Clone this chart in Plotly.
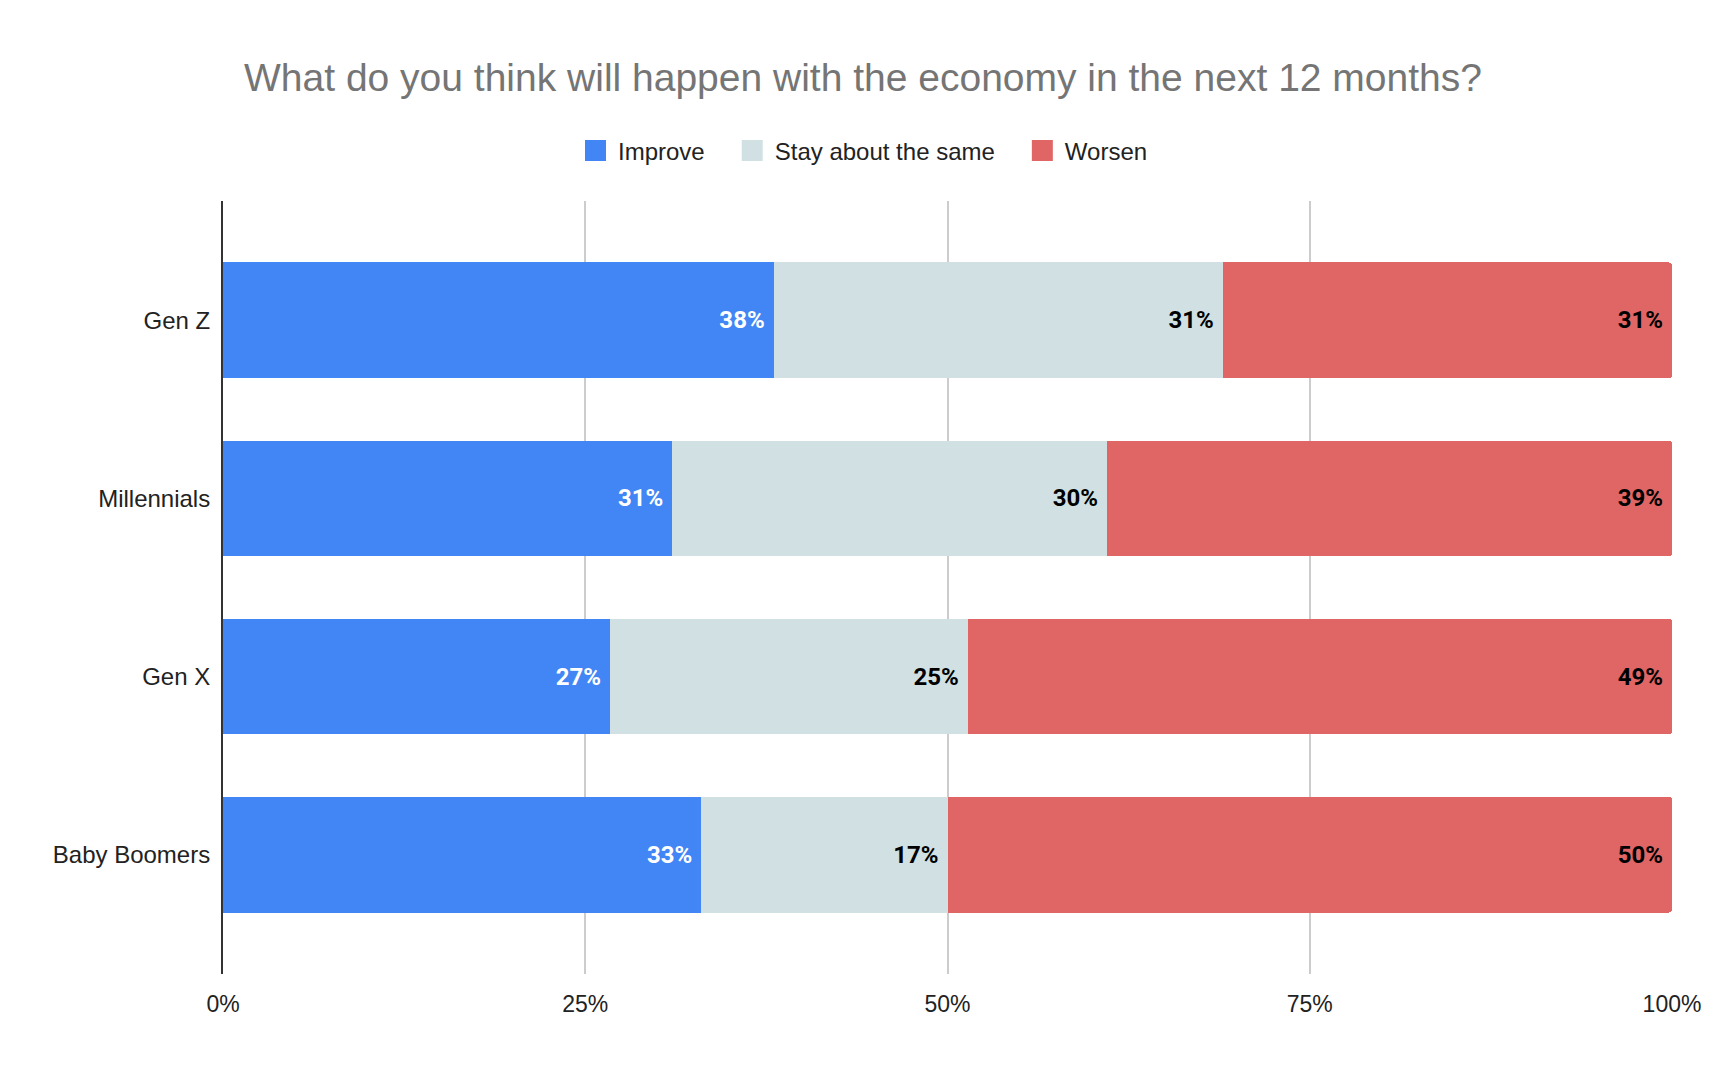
import plotly.graph_objects as go

categories = ["Gen Z", "Millennials", "Gen X", "Baby Boomers"]
series_names = ["Improve", "Stay about the same", "Worsen"]
improve = [38, 31, 26.7, 33]
stay = [31, 30, 24.7, 17]
worsen = [31, 39, 48.6, 50]
series_values = [improve, stay, worsen]
colors = ["#4285F4", "#D0E0E3", "#E06666"]
label_colors = ["#FFFFFF", "#000000", "#000000"]
tick_vals = [0, 25, 50, 75, 100]
tick_text = ["0%", "25%", "50%", "75%", "100%"]

fig = go.Figure()
n = len(series_names)
for i, (name, vals, col, lcol) in enumerate(zip(series_names, series_values, colors, label_colors)):
    fig.add_trace(go.Bar(
        y=categories, x=vals, name=name, orientation="h",
        marker=dict(color=col, line=dict(width=0)),
        width=0.65,
        text=[f"{round(v)}%\u00a0" for v in vals],
        textposition="inside", insidetextanchor="end",
        textfont=dict(family="Roboto", size=24, color=lcol, weight="bold"),
        constraintext="none",
        showlegend=False, legendgroup=name, hoverinfo="skip",
    ))
    legend_label = name + ("\u00a0\u00a0\u00a0" if i < n - 1 else "")
    fig.add_trace(go.Scatter(
        x=[None], y=[None], mode="markers", name=legend_label, legendgroup=name,
        marker=dict(symbol="square", size=16, color=col, line=dict(color=col, width=5)),
        showlegend=True,
    ))

fig.update_layout(
    width=1726, height=1068,
    barmode="stack", barcornerradius=3,
    paper_bgcolor="white", plot_bgcolor="white",
    margin=dict(l=223, r=54, t=201, b=94),
    title=dict(text="What do you think will happen with the economy in the next 12 months?",
               font=dict(family="Liberation Sans, Arial", size=39, color="#757575"),
               x=0.5, xref="container", xanchor="center",
               y=1 - 77 / 1068, yref="container", yanchor="middle"),
    legend=dict(orientation="h", x=0.5, xref="container", xanchor="center",
                y=1 - 151 / 1068, yref="container", yanchor="middle",
                font=dict(family="Liberation Sans, Arial", size=24, color="#222222"),
                traceorder="normal", itemclick=False, itemwidth=35),
    font=dict(family="Liberation Sans, Arial", color="#222222"),
)
fig.update_xaxes(range=[0, 100], tickvals=tick_vals, ticktext=tick_text,
                 showgrid=True, gridcolor="#CCCCCC", gridwidth=1.5,
                 zeroline=False, showline=False,
                 tickfont=dict(size=23, color="#222222"), ticklabelstandoff=14)
fig.update_yaxes(range=[3.67, -0.67], showgrid=False, zeroline=False,
                 showline=True, linecolor="#333333", linewidth=2,
                 tickfont=dict(size=24, color="#222222"), ticklabelstandoff=6)

fig.write_html("out.html")
